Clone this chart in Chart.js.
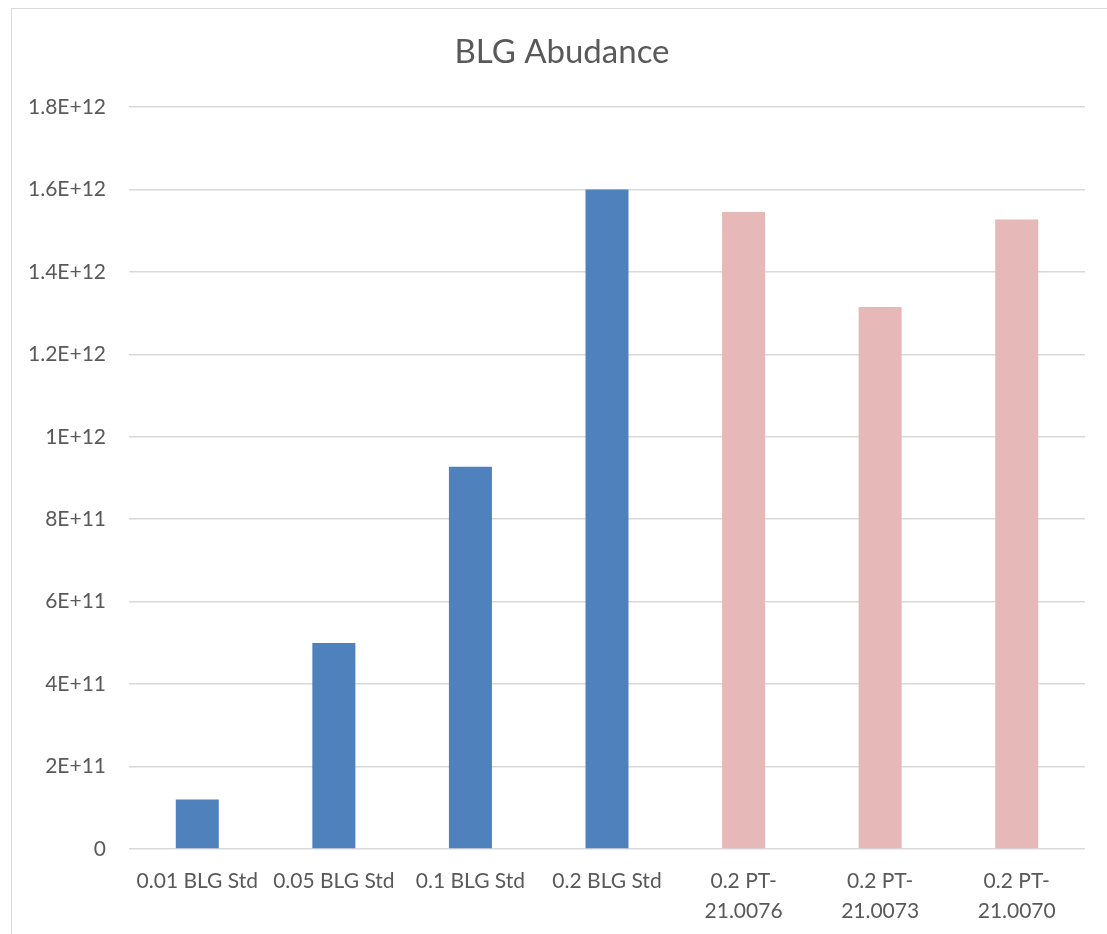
<!DOCTYPE html>
<html>
<head>
<meta charset="utf-8">
<title>BLG Abudance</title>
<script src="https://cdn.jsdelivr.net/npm/chart.js@4/dist/chart.umd.min.js"></script>
<style>
  html, body { margin: 0; padding: 0; background: #fff; overflow: hidden; }
  #frame {
    position: absolute; left: 11px; top: 8px;
    width: 1200px; height: 1000px;
    border: 1.5px solid #d9d9d9;
  }
  #wrap { position: absolute; left: 0; top: 0; width: 1107px; height: 934px; }
</style>
</head>
<body>
<div id="frame"></div>
<div id="wrap"><canvas id="abundance-chart" width="1107" height="934"></canvas></div>
<script>
const chartTitle = 'BLG Abudance';
const sampleLabels = [
  '0.01 BLG Std',
  '0.05 BLG Std',
  '0.1 BLG Std',
  '0.2 BLG Std',
  ['0.2 PT-', '21.0076'],
  ['0.2 PT-', '21.0073'],
  ['0.2 PT-', '21.0070']
];
const sampleKind = ['std', 'std', 'std', 'std', 'unknown', 'unknown', 'unknown'];
const abundance = [1.2e11, 5.0e11, 9.27e11, 1.6e12, 1.545e12, 1.315e12, 1.527e12];

const yMin = 0;
const yMax = 1.8e12;
const yStep = 2e11;

const kindColors = { std: '#4f81bd', unknown: '#e6b9b8' };
const textColor = '#595959';
const gridColor = '#d9d9d9';
const fontFamily = 'Lato, "Open Sans", sans-serif';

// Excel-style scientific tick labels: 0, 2E+11, 1.2E+12 ...
function sciLabel(v) {
  if (v === 0) return '0';
  const exp = Math.floor(Math.log10(v) + 1e-9);
  const mant = parseFloat((v / Math.pow(10, exp)).toFixed(2));
  return mant + 'E+' + exp;
}

// title is centred on the outer frame rather than on the plot area
const frameTitle = {
  id: 'frameTitle',
  afterDraw(chart) {
    const c = chart.ctx;
    c.save();
    c.fillStyle = textColor;
    c.font = `33px ${fontFamily}`;
    c.textAlign = 'center';
    c.textBaseline = 'middle';
    c.fillText(chartTitle, 562, 52);
    c.restore();
  }
};

const ctx = document.getElementById('abundance-chart').getContext('2d');
new Chart(ctx, {
  type: 'bar',
  data: {
    labels: sampleLabels,
    datasets: [{
      label: chartTitle,
      data: abundance,
      backgroundColor: sampleKind.map(k => kindColors[k]),
      borderWidth: 0,
      categoryPercentage: 1,
      barPercentage: 0.315
    }]
  },
  options: {
    responsive: false,
    animation: false,
    layout: { padding: { left: 0, right: 22, top: 107, bottom: 0 } },
    plugins: {
      legend: { display: false },
      tooltip: { enabled: false },
      title: { display: false }
    },
    scales: {
      x: {
        grid: { display: false, drawTicks: false },
        border: { display: false },
        ticks: {
          color: textColor,
          font: { family: fontFamily, size: 21, lineHeight: 1.43 },
          padding: 17,
          maxRotation: 0,
          autoSkip: false
        },
        afterFit: scale => { scale.height = 85; }
      },
      y: {
        min: yMin,
        max: yMax,
        grid: { color: gridColor, lineWidth: 1.5, drawTicks: false },
        border: { display: false },
        ticks: {
          stepSize: yStep,
          color: textColor,
          font: { family: fontFamily, size: 21 },
          padding: 23,
          callback: v => sciLabel(v)
        },
        afterFit: scale => { scale.width = 129; }
      }
    }
  },
  plugins: [frameTitle]
});
</script>
</body>
</html>
